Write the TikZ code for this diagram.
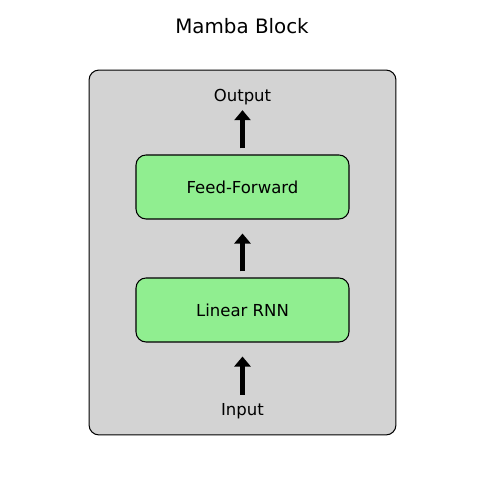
\documentclass[tikz,border=0pt]{standalone}
\usepackage{fontspec}
\setmainfont{DejaVu Sans}
\usetikzlibrary{positioning,arrows.meta}

\begin{document}
\begin{tikzpicture}[
    x=0.02cm, y=-0.02cm,
    every node/.style={font=\fontsize{9.4}{11}\selectfont},
    layer/.style={draw, rectangle, rounded corners=0.2cm, fill=lightgreen, minimum width=4.26cm, minimum height=1.28cm, line width=0.6pt},
    uparrow/.style={line width=3.2pt, -{Triangle[width=0.32cm, length=0.2cm]}}
]
\definecolor{lightgreen}{HTML}{90EE90}
\definecolor{lightgray}{HTML}{D3D3D3}
\useasboundingbox (0,0) rectangle (484,482);
\node (title) at (242,26) {\fontsize{11.3}{13}\selectfont Mamba Block};
\node (block) [draw, rectangle, rounded corners=0.2cm, fill=lightgray, minimum width=6.14cm, minimum height=7.3cm, line width=0.6pt] at (242.5,252.5) {};
\node (rnn) [layer] at (242.5,310) {Linear RNN};
\node (ffn) [layer] at (242.5,187) {Feed-Forward};
\node (input) [inner sep=0pt] at (242.5,411) {Input};
\node (output) [inner sep=0pt] at (242.5,97) {Output};
\draw[uparrow, shorten <=0.16cm, shorten >=0.28cm] (input) -- (rnn);
\draw[uparrow, shorten <=0.12cm, shorten >=0.28cm] (rnn) -- (ffn);
\draw[uparrow, shorten <=0.12cm, shorten >=0.10cm] (ffn) -- (output);
\end{tikzpicture}
\end{document}
